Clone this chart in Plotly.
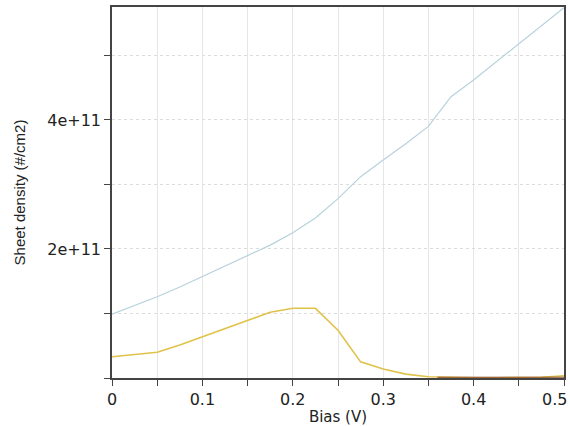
import plotly.graph_objects as go

# Bias sweep (V)
bias = [0, 0.025, 0.05, 0.075, 0.1, 0.125, 0.15, 0.175, 0.2, 0.225, 0.25,
        0.275, 0.3, 0.325, 0.35, 0.375, 0.4, 0.425, 0.45, 0.475, 0.5]

# Sheet densities (#/cm2)
density_a = [0.99e11, 1.12e11, 1.26e11, 1.41e11, 1.57e11, 1.73e11, 1.89e11,
             2.06e11, 2.25e11, 2.48e11, 2.78e11, 3.12e11, 3.38e11, 3.63e11,
             3.90e11, 4.36e11, 4.62e11, 4.90e11, 5.18e11, 5.46e11, 5.74e11]
density_b = [0.33e11, 0.36e11, 0.40e11, 0.51e11, 0.64e11, 0.77e11, 0.90e11,
             1.02e11, 1.08e11, 1.08e11, 0.74e11, 0.25e11, 0.14e11, 0.06e11,
             0.02e11, 0.01e11, 0.005e11, 0.005e11, 0.005e11, 0.01e11, 0.035e11]
bias_c = [0.36, 0.375, 0.4, 0.425, 0.45, 0.475, 0.5]
density_c = [0.012e11, 0.012e11, 0.012e11, 0.012e11, 0.012e11, 0.012e11, 0.012e11]

x_ticks = [0, 0.1, 0.2, 0.3, 0.4, 0.5]
x_labels = ["0", "0.1", "0.2", "0.3", "0.4", "0.5"]
y_ticks = [2e11, 4e11]
y_labels = ["2e+11", "4e+11"]

tick_font = dict(family="DejaVu Sans, sans-serif", size=16, color="#222222")

fig = go.Figure()
fig.add_trace(go.Scatter(x=bias, y=density_a, mode="lines",
                         line=dict(color="#b7d2dc", width=1.2)))
fig.add_trace(go.Scatter(x=bias, y=density_b, mode="lines",
                         line=dict(color="#e0c24a", width=1.6)))
fig.add_trace(go.Scatter(x=bias_c, y=density_c, mode="lines",
                         line=dict(color="#8a4a2a", width=1.0)))

frame = dict(
    showline=True, linecolor="#444444", linewidth=1.6, mirror=True,
    ticks="outside", ticklen=6, tickcolor="#444444", tickwidth=1.2,
    zeroline=False, tickfont=tick_font, automargin=False,
)

# the last x label sits against the right edge, so it is drawn right-aligned
fig.update_xaxes(
    range=[0, 0.5], tickmode="array", tickvals=x_ticks,
    ticktext=x_labels[:-1] + [""],
    showgrid=True, gridcolor="#e6e6e6", gridwidth=1,
    minor=dict(tickmode="linear", dtick=0.05, tick0=0, ticks="outside", ticklen=6,
               tickcolor="#444444", showgrid=True, gridcolor="#e6e6e6"),
    title=dict(text="Bias (V)", standoff=6,
               font=dict(family="DejaVu Sans, sans-serif", size=15, color="#222222")),
    **frame,
)
fig.add_annotation(
    x=x_ticks[-1], xref="x", y=0, yref="paper",
    text=x_labels[-1], showarrow=False, font=tick_font,
    xanchor="right", yanchor="middle", xshift=5, yshift=-21,
)

fig.update_yaxes(
    range=[0, 5.75e11], tickmode="array", tickvals=y_ticks, ticktext=y_labels,
    showgrid=True, gridcolor="#dcdcdc", gridwidth=1, griddash="dot",
    minor=dict(tickmode="linear", dtick=1e11, tick0=0, ticks="outside", ticklen=6,
               tickcolor="#444444", showgrid=True, gridcolor="#dcdcdc", griddash="dot"),
    title=dict(text="Sheet density (#/cm2)", standoff=18,
               font=dict(family="Liberation Sans, Arial, sans-serif", size=15,
                         color="#222222")),
    **frame,
)

fig.update_layout(
    width=570, height=426,
    margin=dict(l=112, r=6, t=7, b=48),
    paper_bgcolor="white", plot_bgcolor="white",
    showlegend=False,
)

fig.write_html("out.html")
